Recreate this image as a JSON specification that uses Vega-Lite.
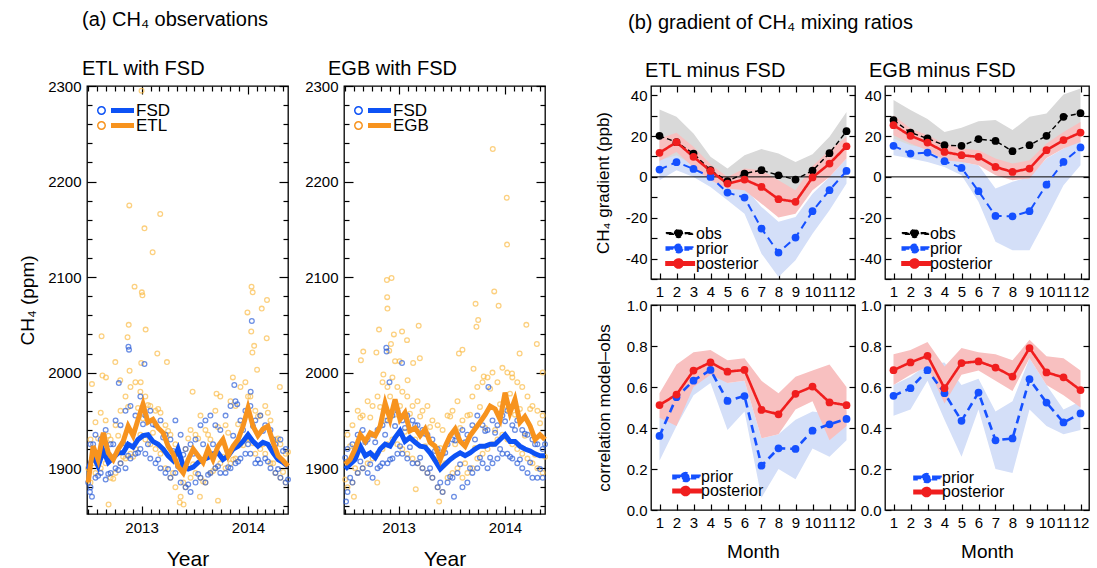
{
"$schema": "https://vega.github.io/schema/vega-lite/v6.json",
"padding": {"left": 17, "top": 10, "right": 0, "bottom": 0},
"config": {
  "font": "Liberation Sans",
  "view": {"stroke": "black", "strokeWidth": 1.3},
  "axis": {"grid": false, "domain": false, "tickColor": "black", "tickWidth": 1.2, "labelColor": "black", "labelFontSize": 15, "titleFontSize": 17, "titleFontWeight": "normal", "titleColor": "black", "labelFont": "Liberation Sans", "titleFont": "Liberation Sans", "labelOverlap": false, "labelFlush": false, "labelBound": false},
  "title": {"fontWeight": "normal", "fontSize": 20, "anchor": "start", "frame": "group", "color": "black", "font": "Liberation Sans"},
  "legend": {"labelFont": "Liberation Sans", "labelColor": "black", "labelFontSize": 16}
},
"datasets": {
"ts": [
{"d":"2012-07-02","ef":1899,"eo":1885,"gf":1899,"go":1904},
{"d":"2012-07-19","ef":1913,"eo":1923,"gf":1904,"go":1909},
{"d":"2012-08-05","ef":1902,"eo":1909,"gf":1909,"go":1920},
{"d":"2012-08-23","ef":1918,"eo":1937,"gf":1923,"go":1935},
{"d":"2012-09-09","ef":1906,"eo":1916,"gf":1913,"go":1928},
{"d":"2012-09-26","ef":1911,"eo":1909,"gf":1916,"go":1937},
{"d":"2012-10-13","ef":1916,"eo":1920,"gf":1911,"go":1934},
{"d":"2012-10-30","ef":1916,"eo":1928,"gf":1920,"go":1944},
{"d":"2012-11-16","ef":1925,"eo":1944,"gf":1925,"go":1968},
{"d":"2012-12-03","ef":1922,"eo":1934,"gf":1923,"go":1951},
{"d":"2012-12-20","ef":1930,"eo":1951,"gf":1932,"go":1972},
{"d":"2013-01-06","ef":1934,"eo":1967,"gf":1939,"go":1951},
{"d":"2013-01-23","ef":1935,"eo":1948,"gf":1928,"go":1958},
{"d":"2013-02-09","ef":1928,"eo":1951,"gf":1932,"go":1939},
{"d":"2013-02-27","ef":1925,"eo":1942,"gf":1927,"go":1942},
{"d":"2013-03-16","ef":1920,"eo":1937,"gf":1923,"go":1934},
{"d":"2013-04-02","ef":1913,"eo":1923,"gf":1922,"go":1941},
{"d":"2013-04-19","ef":1908,"eo":1915,"gf":1916,"go":1927},
{"d":"2013-05-06","ef":1920,"eo":1902,"gf":1908,"go":1923},
{"d":"2013-05-24","ef":1902,"eo":1895,"gf":1899,"go":1909},
{"d":"2013-06-10","ef":1899,"eo":1909,"gf":1904,"go":1923},
{"d":"2013-06-27","ef":1901,"eo":1920,"gf":1909,"go":1934},
{"d":"2013-07-14","ef":1906,"eo":1913,"gf":1913,"go":1941},
{"d":"2013-07-31","ef":1909,"eo":1906,"gf":1916,"go":1928},
{"d":"2013-08-17","ef":1911,"eo":1920,"gf":1913,"go":1923},
{"d":"2013-09-03","ef":1915,"eo":1909,"gf":1916,"go":1934},
{"d":"2013-09-20","ef":1916,"eo":1923,"gf":1920,"go":1941},
{"d":"2013-10-07","ef":1909,"eo":1930,"gf":1923,"go":1948},
{"d":"2013-10-25","ef":1913,"eo":1913,"gf":1923,"go":1956},
{"d":"2013-11-11","ef":1920,"eo":1923,"gf":1925,"go":1965},
{"d":"2013-11-28","ef":1923,"eo":1930,"gf":1925,"go":1962},
{"d":"2013-12-15","ef":1928,"eo":1944,"gf":1930,"go":1951},
{"d":"2014-01-01","ef":1935,"eo":1963,"gf":1935,"go":1979},
{"d":"2014-01-18","ef":1928,"eo":1944,"gf":1928,"go":1958},
{"d":"2014-02-04","ef":1923,"eo":1934,"gf":1928,"go":1972},
{"d":"2014-02-21","ef":1927,"eo":1941,"gf":1923,"go":1948},
{"d":"2014-03-10","ef":1925,"eo":1944,"gf":1920,"go":1954},
{"d":"2014-03-28","ef":1916,"eo":1927,"gf":1918,"go":1944},
{"d":"2014-04-14","ef":1909,"eo":1913,"gf":1915,"go":1930},
{"d":"2014-05-01","ef":1906,"eo":1908,"gf":1913,"go":1935},
{"d":"2014-05-18","ef":1902,"eo":1902,"gf":1913,"go":1930}
],
"pts": [
{"d":"2012-07-10","eo1":1930,"eo2":1885,"ef1":1925,"ef2":1880,"go1":1935,"go2":1880,"gf1":1920,"gf2":1875},
{"d":"2012-07-27","eo1":1948,"eo2":1895,"ef1":1935,"ef2":1890,"go1":1945,"go2":1885,"gf1":1925,"gf2":1885},
{"d":"2012-08-14","eo1":1958,"eo2":1900,"ef1":1930,"ef2":1895,"go1":1960,"go2":1895,"gf1":1935,"gf2":1895},
{"d":"2012-08-31","eo1":1905,"eo2":1950,"ef1":1940,"ef2":1888,"go1":1955,"go2":1900,"gf1":1940,"gf2":1900},
{"d":"2012-09-17","eo1":1890,"eo2":1930,"ef1":1925,"ef2":1895,"go1":1970,"go2":1905,"gf1":1930,"gf2":1895},
{"d":"2012-10-04","eo1":1945,"eo2":1895,"ef1":1950,"ef2":1900,"go1":1965,"go2":1910,"gf1":1935,"gf2":1890},
{"d":"2012-10-21","eo1":1960,"eo2":1905,"ef1":1945,"ef2":1905,"go1":1975,"go2":1915,"gf1":1940,"gf2":1900},
{"d":"2012-11-07","eo1":1975,"eo2":1910,"ef1":1960,"ef2":1900,"go1":1990,"go2":1920,"gf1":1945,"gf2":1905},
{"d":"2012-11-24","eo1":1985,"eo2":1915,"ef1":1965,"ef2":1910,"go1":1985,"go2":1925,"gf1":1950,"gf2":1905},
{"d":"2012-12-11","eo1":1990,"eo2":1920,"ef1":1955,"ef2":1915,"go1":1995,"go2":1930,"gf1":1955,"gf2":1910},
{"d":"2012-12-28","eo1":1980,"eo2":1935,"ef1":1975,"ef2":1920,"go1":1985,"go2":1925,"gf1":1960,"gf2":1915},
{"d":"2013-01-14","eo1":1975,"eo2":1930,"ef1":1955,"ef2":1915,"go1":1980,"go2":1920,"gf1":1950,"gf2":1915},
{"d":"2013-01-31","eo1":1965,"eo2":1925,"ef1":1960,"ef2":1910,"go1":1975,"go2":1915,"gf1":1955,"gf2":1910},
{"d":"2013-02-18","eo1":1960,"eo2":1920,"ef1":1945,"ef2":1905,"go1":1965,"go2":1910,"gf1":1950,"gf2":1905},
{"d":"2013-03-07","eo1":1958,"eo2":1915,"ef1":1950,"ef2":1900,"go1":1970,"go2":1905,"gf1":1945,"gf2":1905},
{"d":"2013-03-24","eo1":1945,"eo2":1900,"ef1":1935,"ef2":1895,"go1":1960,"go2":1900,"gf1":1940,"gf2":1900},
{"d":"2013-04-10","eo1":1935,"eo2":1890,"ef1":1930,"ef2":1890,"go1":1965,"go2":1895,"gf1":1935,"gf2":1895},
{"d":"2013-04-27","eo1":1925,"eo2":1880,"ef1":1950,"ef2":1895,"go1":1950,"go2":1890,"gf1":1930,"gf2":1890},
{"d":"2013-05-15","eo1":1910,"eo2":1870,"ef1":1935,"ef2":1885,"go1":1945,"go2":1880,"gf1":1920,"gf2":1880},
{"d":"2013-06-01","eo1":1880,"eo2":1920,"ef1":1920,"ef2":1880,"go1":1940,"go2":1875,"gf1":1915,"gf2":1875},
{"d":"2013-06-18","eo1":1940,"eo2":1890,"ef1":1925,"ef2":1875,"go1":1955,"go2":1890,"gf1":1925,"gf2":1885},
{"d":"2013-07-05","eo1":1935,"eo2":1895,"ef1":1930,"ef2":1885,"go1":1960,"go2":1895,"gf1":1930,"gf2":1890},
{"d":"2013-07-22","eo1":1890,"eo2":1955,"ef1":1945,"ef2":1890,"go1":1970,"go2":1900,"gf1":1935,"gf2":1895},
{"d":"2013-08-08","eo1":1940,"eo2":1885,"ef1":1950,"ef2":1885,"go1":1950,"go2":1890,"gf1":1940,"gf2":1880},
{"d":"2013-08-25","eo1":1930,"eo2":1895,"ef1":1955,"ef2":1895,"go1":1955,"go2":1895,"gf1":1935,"gf2":1885},
{"d":"2013-09-11","eo1":1960,"eo2":1900,"ef1":1945,"ef2":1900,"go1":1975,"go2":1900,"gf1":1945,"gf2":1895},
{"d":"2013-09-28","eo1":1975,"eo2":1905,"ef1":1940,"ef2":1895,"go1":1985,"go2":1910,"gf1":1955,"gf2":1900},
{"d":"2013-10-16","eo1":1945,"eo2":1900,"ef1":1955,"ef2":1895,"go1":1990,"go2":1915,"gf1":1945,"gf2":1905},
{"d":"2013-11-02","eo1":1970,"eo2":1905,"ef1":1965,"ef2":1900,"go1":1995,"go2":1920,"gf1":1940,"gf2":1900},
{"d":"2013-11-19","eo1":1965,"eo2":1910,"ef1":1970,"ef2":1905,"go1":2000,"go2":1925,"gf1":1950,"gf2":1905},
{"d":"2013-12-06","eo1":1985,"eo2":1925,"ef1":1950,"ef2":1910,"go1":1990,"go2":1930,"gf1":1945,"gf2":1910},
{"d":"2013-12-23","eo1":1990,"eo2":1930,"ef1":1960,"ef2":1915,"go1":2005,"go2":1935,"gf1":1955,"gf2":1915},
{"d":"2014-01-09","eo1":1975,"eo2":1930,"ef1":1965,"ef2":1915,"go1":2000,"go2":1930,"gf1":1960,"gf2":1915},
{"d":"2014-01-26","eo1":1960,"eo2":1915,"ef1":1950,"ef2":1905,"go1":1995,"go2":1925,"gf1":1945,"gf2":1910},
{"d":"2014-02-12","eo1":1955,"eo2":1920,"ef1":1955,"ef2":1905,"go1":1990,"go2":1920,"gf1":1950,"gf2":1905},
{"d":"2014-03-01","eo1":1965,"eo2":1915,"ef1":1945,"ef2":1910,"go1":1985,"go2":1915,"gf1":1940,"gf2":1900},
{"d":"2014-03-19","eo1":1950,"eo2":1905,"ef1":1940,"ef2":1900,"go1":1975,"go2":1910,"gf1":1935,"gf2":1895},
{"d":"2014-04-05","eo1":1930,"eo2":1895,"ef1":1925,"ef2":1895,"go1":1965,"go2":1905,"gf1":1930,"gf2":1890},
{"d":"2014-04-22","eo1":1925,"eo2":1890,"ef1":1930,"ef2":1890,"go1":1960,"go2":1900,"gf1":1925,"gf2":1890},
{"d":"2014-05-10","eo1":1915,"eo2":1885,"ef1":1920,"ef2":1885,"go1":1955,"go2":1895,"gf1":1920,"gf2":1890},
{"d":"2012-07-02","eo1":1900,"ef1":1885,"go1":1888,"gf1":1911},
{"d":"2012-07-19","eo1":1905,"ef1":1925,"go1":1923,"gf1":1890},
{"d":"2012-08-05","eo1":1931,"ef1":1892,"go1":1900,"gf1":1919},
{"d":"2012-08-23","eo1":1925,"ef1":1934,"go1":1953,"gf1":1907},
{"d":"2012-09-09","eo1":1934,"ef1":1894,"go1":1914,"gf1":1927},
{"d":"2012-09-26","eo1":1889,"ef1":1925,"go1":1953,"gf1":1904},
{"d":"2012-10-13","eo1":1934,"ef1":1898,"go1":1912,"gf1":1927},
{"d":"2012-10-30","eo1":1912,"ef1":1926,"go1":1964,"gf1":1902},
{"d":"2012-11-16","eo1":1964,"ef1":1913,"go1":1950,"gf1":1935},
{"d":"2012-12-03","eo1":1912,"ef1":1938,"go1":1975,"gf1":1909},
{"d":"2012-12-20","eo1":1963,"ef1":1916,"go1":1956,"gf1":1944},
{"d":"2013-01-06","eo1":1952,"ef1":1946,"go1":1965,"gf1":1923},
{"d":"2013-01-23","eo1":1966,"ef1":1925,"go1":1938,"gf1":1942},
{"d":"2013-02-09","eo1":1937,"ef1":1946,"go1":1957,"gf1":1922},
{"d":"2013-02-27","eo1":1962,"ef1":1909,"go1":1930,"gf1":1945},
{"d":"2013-03-16","eo1":1919,"ef1":1932,"go1":1954,"gf1":1911},
{"d":"2013-04-02","eo1":1939,"ef1":1899,"go1":1923,"gf1":1936},
{"d":"2013-04-19","eo1":1895,"ef1":1918,"go1":1943,"gf1":1900},
{"d":"2013-05-06","eo1":1916,"ef1":1902,"go1":1909,"gf1":1918},
{"d":"2013-05-24","eo1":1885,"ef1":1914,"go1":1921,"gf1":1885},
{"d":"2013-06-10","eo1":1931,"ef1":1883,"go1":1905,"gf1":1916},
{"d":"2013-06-27","eo1":1904,"ef1":1915,"go1":1954,"gf1":1891},
{"d":"2013-07-14","eo1":1931,"ef1":1894,"go1":1925,"gf1":1929},
{"d":"2013-07-31","eo1":1886,"ef1":1925,"go1":1942,"gf1":1904},
{"d":"2013-08-17","eo1":1935,"ef1":1893,"go1":1905,"gf1":1927},
{"d":"2013-09-03","eo1":1897,"ef1":1925,"go1":1956,"gf1":1900},
{"d":"2013-09-20","eo1":1943,"ef1":1902,"go1":1921,"gf1":1930},
{"d":"2013-10-07","eo1":1912,"ef1":1927,"go1":1964,"gf1":1911},
{"d":"2013-10-25","eo1":1937,"ef1":1901,"go1":1942,"gf1":1939},
{"d":"2013-11-11","eo1":1909,"ef1":1934,"go1":1983,"gf1":1911},
{"d":"2013-11-28","eo1":1946,"ef1":1907,"go1":1940,"gf1":1937},
{"d":"2013-12-15","eo1":1924,"ef1":1940,"go1":1967,"gf1":1920},
{"d":"2014-01-01","eo1":1975,"ef1":1925,"go1":1961,"gf1":1949},
{"d":"2014-01-18","eo1":1926,"ef1":1944,"go1":1978,"gf1":1912},
{"d":"2014-02-04","eo1":1954,"ef1":1909,"go1":1956,"gf1":1940},
{"d":"2014-02-21","eo1":1925,"ef1":1939,"go1":1962,"gf1":1909},
{"d":"2014-03-10","eo1":1958,"ef1":1907,"go1":1934,"gf1":1936},
{"d":"2014-03-28","eo1":1905,"ef1":1930,"go1":1962,"gf1":1906},
{"d":"2014-04-14","eo1":1931,"ef1":1899,"go1":1914,"gf1":1925},
{"d":"2014-05-01","eo1":1896,"ef1":1918,"go1":1947,"gf1":1899},
{"d":"2014-05-18","eo1":1917,"ef1":1888,"go1":1912,"gf1":1925},
{"d":"2013-01-01","eo1":2295},{"d":"2012-11-20","eo1":2175},{"d":"2013-03-06","eo1":2166},{"d":"2013-01-11","eo1":2151},
{"d":"2013-02-08","eo1":2126},{"d":"2012-12-08","eo1":2090},{"d":"2013-01-02","eo1":2084},{"d":"2013-01-04","eo1":2081},
{"d":"2012-11-18","eo1":2050},{"d":"2012-11-14","eo1":2037},{"d":"2013-01-15","eo1":2045},{"d":"2012-08-17","eo1":2038},
{"d":"2013-02-24","eo1":2020},{"d":"2012-10-03","eo1":2011},{"d":"2013-03-29","eo1":2011},{"d":"2012-12-31","eo1":2010},
{"d":"2014-01-13","eo1":2090},{"d":"2014-01-17","eo1":2084},{"d":"2014-03-07","eo1":2076},{"d":"2014-02-17","eo1":2067},
{"d":"2013-12-30","eo1":2063},{"d":"2014-01-12","eo1":2043},{"d":"2014-03-06","eo1":2036},{"d":"2014-01-22","eo1":2028},
{"d":"2014-01-16","eo1":2021},{"d":"2012-08-20","eo1":1997},{"d":"2012-09-01","eo1":1995},{"d":"2012-11-21","eo1":2002},
{"d":"2012-12-29","eo1":1990},{"d":"2013-11-10","eo1":1995},{"d":"2014-02-01","eo1":2003},{"d":"2014-04-20","eo1":1985},
{"d":"2012-07-15","eo1":1988},{"d":"2012-10-20","eo1":1992},{"d":"2013-06-25","eo1":1980},{"d":"2013-09-15","eo1":1978},
{"d":"2012-09-10","eo1":1862},{"d":"2013-05-25","eo1":1862},{"d":"2013-05-12","eo1":1864},{"d":"2013-09-20","eo1":1866},
{"d":"2013-07-20","eo1":1870},
{"d":"2012-11-17","ef1":2027},{"d":"2012-11-19","ef1":2024},{"d":"2013-01-11","ef1":2009},{"d":"2014-01-14","ef1":2054},
{"d":"2012-07-15","ef1":1870},{"d":"2012-07-08","ef1":1875},{"d":"2012-10-15","ef1":1989},{"d":"2013-11-15","ef1":1987},
{"d":"2013-11-25","ef1":1967},{"d":"2014-01-10","ef1":1980},
{"d":"2013-11-20","go1":2234},{"d":"2014-01-07","go1":2183},{"d":"2014-01-08","go1":2134},{"d":"2013-11-25","go1":2085},
{"d":"2013-12-10","go1":2070},{"d":"2012-11-22","go1":2097},{"d":"2012-12-08","go1":2099},{"d":"2012-11-23","go1":2079},
{"d":"2012-11-24","go1":2067},{"d":"2012-10-26","go1":2045},{"d":"2012-12-16","go1":2040},{"d":"2013-01-13","go1":2043},
{"d":"2012-12-06","go1":2030},{"d":"2013-01-30","go1":2034},{"d":"2013-03-11","go1":2049},{"d":"2012-09-02","go1":2022},
{"d":"2012-10-17","go1":2021},{"d":"2012-08-25","go1":2013},{"d":"2012-11-30","go1":2023},{"d":"2012-12-20","go1":2012},
{"d":"2013-01-05","go1":2012},{"d":"2013-03-15","go1":2015},{"d":"2013-02-20","go1":2010},{"d":"2013-07-27","go1":2020},
{"d":"2013-08-08","go1":2024},{"d":"2013-09-22","go1":2072},{"d":"2013-09-25","go1":2048},{"d":"2013-10-01","go1":2055},
{"d":"2013-09-15","go1":2004},{"d":"2014-03-15","go1":2050},{"d":"2014-04-20","go1":2030},{"d":"2014-02-20","go1":2020},
{"d":"2014-05-10","go1":2000},{"d":"2013-05-20","go1":1865},{"d":"2013-03-01","go1":1878},{"d":"2012-10-20","go1":1885},
{"d":"2012-08-01","go1":1870},{"d":"2012-11-10","go1":1998},{"d":"2013-02-01","go1":1992},{"d":"2013-10-20","go1":1996},
{"d":"2014-01-25","go1":1999},
{"d":"2012-11-20","gf1":2026},{"d":"2012-11-21","gf1":2022},{"d":"2013-01-13","gf1":2010},{"d":"2013-11-05","gf1":1985},
{"d":"2012-07-05","gf1":1865},{"d":"2013-07-10","gf1":1870},{"d":"2012-12-01","gf1":1990}
],
"grad": [
{"p":"ETL","s":"obs","m":1,"v":20.1,"lo":7,"hi":33},{"p":"ETL","s":"obs","m":2,"v":17.0,"lo":5,"hi":29.4},{"p":"ETL","s":"obs","m":3,"v":11.4,"lo":1.4,"hi":21.2},{"p":"ETL","s":"obs","m":4,"v":3.3,"lo":-3.2,"hi":9.8},{"p":"ETL","s":"obs","m":5,"v":-2.1,"lo":-8,"hi":4.1},{"p":"ETL","s":"obs","m":6,"v":1.6,"lo":-7.4,"hi":10.6},{"p":"ETL","s":"obs","m":7,"v":3.3,"lo":-7,"hi":13.6},{"p":"ETL","s":"obs","m":8,"v":0.8,"lo":-9.7,"hi":11.4},{"p":"ETL","s":"obs","m":9,"v":-1.3,"lo":-9.9,"hi":7.3},{"p":"ETL","s":"obs","m":10,"v":3.1,"lo":-4.9,"hi":11.1},{"p":"ETL","s":"obs","m":11,"v":11.6,"lo":3.6,"hi":19.6},{"p":"ETL","s":"obs","m":12,"v":22.4,"lo":13,"hi":31.8},
{"p":"ETL","s":"prior","m":1,"v":3.6,"lo":-1.6,"hi":8.2},{"p":"ETL","s":"prior","m":2,"v":7.2,"lo":3.3,"hi":10.6},{"p":"ETL","s":"prior","m":3,"v":3.9,"lo":0,"hi":5.7},{"p":"ETL","s":"prior","m":4,"v":0,"lo":-4.9,"hi":2.4},{"p":"ETL","s":"prior","m":5,"v":-7.7,"lo":-11.4,"hi":-3.3},{"p":"ETL","s":"prior","m":6,"v":-10.1,"lo":-18,"hi":-4.9},{"p":"ETL","s":"prior","m":7,"v":-25.3,"lo":-37.6,"hi":-14.7},{"p":"ETL","s":"prior","m":8,"v":-37.1,"lo":-49,"hi":-22},{"p":"ETL","s":"prior","m":9,"v":-29.7,"lo":-40.8,"hi":-19.6},{"p":"ETL","s":"prior","m":10,"v":-16.8,"lo":-27.8,"hi":-8.2},{"p":"ETL","s":"prior","m":11,"v":-6.5,"lo":-16.3,"hi":0},{"p":"ETL","s":"prior","m":12,"v":2.9,"lo":-3.3,"hi":9},
{"p":"ETL","s":"posterior","m":1,"v":11.8,"lo":7.8,"hi":18.8},{"p":"ETL","s":"posterior","m":2,"v":17.0,"lo":12.2,"hi":21.6},{"p":"ETL","s":"posterior","m":3,"v":9.8,"lo":4.6,"hi":14.7},{"p":"ETL","s":"posterior","m":4,"v":2.9,"lo":-1.6,"hi":6.2},{"p":"ETL","s":"posterior","m":5,"v":-3.3,"lo":-5.7,"hi":0},{"p":"ETL","s":"posterior","m":6,"v":-1.3,"lo":-6.5,"hi":4.1},{"p":"ETL","s":"posterior","m":7,"v":-4.9,"lo":-13.1,"hi":3.3},{"p":"ETL","s":"posterior","m":8,"v":-10.9,"lo":-19.9,"hi":-1.6},{"p":"ETL","s":"posterior","m":9,"v":-12.2,"lo":-18,"hi":-6.5},{"p":"ETL","s":"posterior","m":10,"v":-0.3,"lo":-6.5,"hi":5.2},{"p":"ETL","s":"posterior","m":11,"v":6.5,"lo":0,"hi":13.1},{"p":"ETL","s":"posterior","m":12,"v":15.0,"lo":9,"hi":19.6},
{"p":"EGB","s":"obs","m":1,"v":27.8,"lo":18,"hi":37.6},{"p":"EGB","s":"obs","m":2,"v":21.7,"lo":10.7,"hi":32.7},{"p":"EGB","s":"obs","m":3,"v":18.8,"lo":9.3,"hi":28.3},{"p":"EGB","s":"obs","m":4,"v":15.5,"lo":9,"hi":22},{"p":"EGB","s":"obs","m":5,"v":15.2,"lo":6.4,"hi":24},{"p":"EGB","s":"obs","m":6,"v":18.5,"lo":9.7,"hi":27.3},{"p":"EGB","s":"obs","m":7,"v":17.6,"lo":7.4,"hi":27.8},{"p":"EGB","s":"obs","m":8,"v":12.6,"lo":2.3,"hi":22.9},{"p":"EGB","s":"obs","m":9,"v":15.5,"lo":1.6,"hi":29.4},{"p":"EGB","s":"obs","m":10,"v":20.1,"lo":9.2,"hi":31},{"p":"EGB","s":"obs","m":11,"v":29.4,"lo":18.5,"hi":40.3},{"p":"EGB","s":"obs","m":12,"v":31.2,"lo":19.1,"hi":43.3},
{"p":"EGB","s":"prior","m":1,"v":15.2,"lo":10.6,"hi":18.8},{"p":"EGB","s":"prior","m":2,"v":11.4,"lo":9,"hi":15.5},{"p":"EGB","s":"prior","m":3,"v":11.9,"lo":7.3,"hi":13.9},{"p":"EGB","s":"prior","m":4,"v":7.7,"lo":4.9,"hi":10.6},{"p":"EGB","s":"prior","m":5,"v":4.4,"lo":0.8,"hi":7.3},{"p":"EGB","s":"prior","m":6,"v":-7.0,"lo":-12.2,"hi":5.7},{"p":"EGB","s":"prior","m":7,"v":-19.1,"lo":-31.8,"hi":-5.7},{"p":"EGB","s":"prior","m":8,"v":-19.3,"lo":-35.9,"hi":-2.4},{"p":"EGB","s":"prior","m":9,"v":-16.8,"lo":-35.9,"hi":0},{"p":"EGB","s":"prior","m":10,"v":-3.8,"lo":-20.4,"hi":9},{"p":"EGB","s":"prior","m":11,"v":7.3,"lo":-4.1,"hi":13.9},{"p":"EGB","s":"prior","m":12,"v":14.4,"lo":5.7,"hi":18},
{"p":"EGB","s":"posterior","m":1,"v":25.3,"lo":20.4,"hi":30.2},{"p":"EGB","s":"posterior","m":2,"v":20.1,"lo":16.3,"hi":23.7},{"p":"EGB","s":"posterior","m":3,"v":16.8,"lo":13.1,"hi":20.4},{"p":"EGB","s":"posterior","m":4,"v":12.2,"lo":8.2,"hi":16.3},{"p":"EGB","s":"posterior","m":5,"v":10.6,"lo":7.3,"hi":13.9},{"p":"EGB","s":"posterior","m":6,"v":9.8,"lo":5.7,"hi":13.1},{"p":"EGB","s":"posterior","m":7,"v":4.9,"lo":0.8,"hi":9},{"p":"EGB","s":"posterior","m":8,"v":2.4,"lo":-1.6,"hi":6.5},{"p":"EGB","s":"posterior","m":9,"v":4.1,"lo":-0.8,"hi":8.2},{"p":"EGB","s":"posterior","m":10,"v":13.1,"lo":9.3,"hi":16.3},{"p":"EGB","s":"posterior","m":11,"v":18.0,"lo":13.9,"hi":22},{"p":"EGB","s":"posterior","m":12,"v":21.7,"lo":17.1,"hi":26.9}
],
"corr": [
{"p":"ETL","s":"prior","m":1,"v":0.361,"lo":0.24,"hi":0.45},{"p":"ETL","s":"prior","m":2,"v":0.55,"lo":0.41,"hi":0.58},{"p":"ETL","s":"prior","m":3,"v":0.631,"lo":0.56,"hi":0.65},{"p":"ETL","s":"prior","m":4,"v":0.683,"lo":0.62,"hi":0.70},{"p":"ETL","s":"prior","m":5,"v":0.532,"lo":0.39,"hi":0.62},{"p":"ETL","s":"prior","m":6,"v":0.556,"lo":0.48,"hi":0.63},{"p":"ETL","s":"prior","m":7,"v":0.216,"lo":0.06,"hi":0.35},{"p":"ETL","s":"prior","m":8,"v":0.301,"lo":0.20,"hi":0.37},{"p":"ETL","s":"prior","m":9,"v":0.298,"lo":0.15,"hi":0.44},{"p":"ETL","s":"prior","m":10,"v":0.387,"lo":0.30,"hi":0.48},{"p":"ETL","s":"prior","m":11,"v":0.418,"lo":0.26,"hi":0.47},{"p":"ETL","s":"prior","m":12,"v":0.444,"lo":0.34,"hi":0.48},
{"p":"ETL","s":"posterior","m":1,"v":0.512,"lo":0.45,"hi":0.57},{"p":"ETL","s":"posterior","m":2,"v":0.563,"lo":0.41,"hi":0.71},{"p":"ETL","s":"posterior","m":3,"v":0.680,"lo":0.60,"hi":0.77},{"p":"ETL","s":"posterior","m":4,"v":0.720,"lo":0.66,"hi":0.78},{"p":"ETL","s":"posterior","m":5,"v":0.675,"lo":0.62,"hi":0.73},{"p":"ETL","s":"posterior","m":6,"v":0.683,"lo":0.63,"hi":0.74},{"p":"ETL","s":"posterior","m":7,"v":0.488,"lo":0.35,"hi":0.63},{"p":"ETL","s":"posterior","m":8,"v":0.467,"lo":0.37,"hi":0.57},{"p":"ETL","s":"posterior","m":9,"v":0.567,"lo":0.49,"hi":0.65},{"p":"ETL","s":"posterior","m":10,"v":0.602,"lo":0.53,"hi":0.68},{"p":"ETL","s":"posterior","m":11,"v":0.525,"lo":0.34,"hi":0.71},{"p":"ETL","s":"posterior","m":12,"v":0.511,"lo":0.41,"hi":0.60},
{"p":"EGB","s":"prior","m":1,"v":0.557,"lo":0.46,"hi":0.61},{"p":"EGB","s":"prior","m":2,"v":0.594,"lo":0.49,"hi":0.65},{"p":"EGB","s":"prior","m":3,"v":0.682,"lo":0.63,"hi":0.71},{"p":"EGB","s":"prior","m":4,"v":0.570,"lo":0.44,"hi":0.72},{"p":"EGB","s":"prior","m":5,"v":0.435,"lo":0.26,"hi":0.61},{"p":"EGB","s":"prior","m":6,"v":0.573,"lo":0.49,"hi":0.64},{"p":"EGB","s":"prior","m":7,"v":0.340,"lo":0.20,"hi":0.48},{"p":"EGB","s":"prior","m":8,"v":0.349,"lo":0.18,"hi":0.53},{"p":"EGB","s":"prior","m":9,"v":0.638,"lo":0.49,"hi":0.74},{"p":"EGB","s":"prior","m":10,"v":0.524,"lo":0.41,"hi":0.61},{"p":"EGB","s":"prior","m":11,"v":0.427,"lo":0.37,"hi":0.49},{"p":"EGB","s":"prior","m":12,"v":0.471,"lo":0.39,"hi":0.53},
{"p":"EGB","s":"posterior","m":1,"v":0.682,"lo":0.61,"hi":0.76},{"p":"EGB","s":"posterior","m":2,"v":0.720,"lo":0.66,"hi":0.78},{"p":"EGB","s":"posterior","m":3,"v":0.752,"lo":0.70,"hi":0.82},{"p":"EGB","s":"posterior","m":4,"v":0.594,"lo":0.52,"hi":0.70},{"p":"EGB","s":"posterior","m":5,"v":0.717,"lo":0.66,"hi":0.79},{"p":"EGB","s":"posterior","m":6,"v":0.725,"lo":0.68,"hi":0.77},{"p":"EGB","s":"posterior","m":7,"v":0.695,"lo":0.63,"hi":0.76},{"p":"EGB","s":"posterior","m":8,"v":0.651,"lo":0.58,"hi":0.73},{"p":"EGB","s":"posterior","m":9,"v":0.790,"lo":0.74,"hi":0.83},{"p":"EGB","s":"posterior","m":10,"v":0.671,"lo":0.61,"hi":0.75},{"p":"EGB","s":"posterior","m":11,"v":0.647,"lo":0.56,"hi":0.74},{"p":"EGB","s":"posterior","m":12,"v":0.585,"lo":0.50,"hi":0.68}
]
},
"resolve": {"scale": {"color": "independent", "strokeDash": "independent", "strokeWidth": "independent"}},
"spacing": 37,
"hconcat": [
{
 "title": {"text": "(a) CH₄ observations", "dx": -5, "offset": 28},
 "bounds": "flush",
 "spacing": 56,
 "resolve": {"scale": {"color": "independent"}},
 "hconcat": [
 {
  "width": 201, "height": 428,
  "title": {"text": "ETL with FSD", "dx": -5, "offset": 0},
  "layer": [
   {"data": {"name": "pts"}, "transform": [{"fold": ["eo1", "eo2"], "as": ["k", "v"]}],
    "mark": {"type": "point", "filled": false, "size": 22, "strokeWidth": 1.3, "color": "#fbbd4a"},
    "encoding": {
     "x": {"field": "d", "type": "temporal", "scale": {"domain": [{"year": 2012, "month": 6, "date": 28}, {"year": 2014, "month": 5, "date": 18}], "nice": false},
       "axis": {"orient": "bottom", "title": "Year", "titleFontSize": 21, "titlePadding": 10, "tickCount": {"interval": "month", "step": 1}, "labelExpr": "month(datum.value) == 0 ? timeFormat(datum.value, '%Y') : ''", "tickSize": {"condition": {"test": "month(datum.value) == 0", "value": -8}, "value": -5}, "labelPadding": 14}},
     "y": {"field": "v", "type": "quantitative", "scale": {"domain": [1852, 2300], "nice": false, "zero": false},
       "axis": {"orient": "left", "title": "CH₄ (ppm)", "titleFontSize": 19, "titlePadding": 10, "values": [1860,1880,1900,1920,1940,1960,1980,2000,2020,2040,2060,2080,2100,2120,2140,2160,2180,2200,2220,2240,2260,2280,2300], "labelExpr": "datum.value % 100 == 0 ? '' + datum.value : ''", "tickSize": {"condition": {"test": "datum.value % 100 == 0", "value": -9}, "value": -5}, "labelPadding": 15}}
    }},
   {"data": {"name": "pts"}, "transform": [{"fold": ["ef1", "ef2"], "as": ["k", "v"]}],
    "mark": {"type": "point", "filled": false, "size": 22, "strokeWidth": 1.3, "color": "#2d5fd9"},
    "encoding": {"x": {"field": "d", "type": "temporal", "axis": null}, "y": {"field": "v", "type": "quantitative", "axis": null}}},
   {"data": {"name": "ts"}, "mark": {"type": "line", "strokeWidth": 5},
    "encoding": {"x": {"field": "d", "type": "temporal", "axis": null}, "y": {"field": "ef", "type": "quantitative", "axis": null},
     "color": {"datum": "FSD", "type": "nominal", "scale": {"domain": ["FSD", "ETL"], "range": ["#0d52f5", "#f7931e"]},
      "legend": {"orient": "none", "legendX": 8, "legendY": 18, "padding": 0, "rowPadding": -8, "clipHeight": 13, "symbolSize": 169, "labelOffset": 24, "labelFontSize": 17, "title": null, "symbolType": "M-1,0a0.69,0.69 0 1,1 1.38,0a0.69,0.69 0 1,1 -1.38,0ZM-0.77,0a0.46,0.46 0 1,0 0.92,0a0.46,0.46 0 1,0 -0.92,0ZM1.15,-0.38L4.69,-0.38L4.69,0.38L1.15,0.38Z", "symbolStrokeWidth": 0, "encode": {"symbols": {"update": {"fill": {"signal": "datum.value == 'FSD' ? '#0d52f5' : '#f7931e'"}, "stroke": {"value": "transparent"}}}}}}}},
   {"data": {"name": "ts"}, "mark": {"type": "line", "strokeWidth": 5},
    "encoding": {"x": {"field": "d", "type": "temporal", "axis": null}, "y": {"field": "eo", "type": "quantitative", "axis": null},
     "color": {"datum": "ETL", "type": "nominal",
      "legend": {"orient": "none", "legendX": 8, "legendY": 18, "padding": 0, "rowPadding": -8, "clipHeight": 13, "symbolSize": 169, "labelOffset": 24, "labelFontSize": 17, "title": null, "symbolType": "M-1,0a0.69,0.69 0 1,1 1.38,0a0.69,0.69 0 1,1 -1.38,0ZM-0.77,0a0.46,0.46 0 1,0 0.92,0a0.46,0.46 0 1,0 -0.92,0ZM1.15,-0.38L4.69,-0.38L4.69,0.38L1.15,0.38Z", "symbolStrokeWidth": 0, "encode": {"symbols": {"update": {"fill": {"signal": "datum.value == 'FSD' ? '#0d52f5' : '#f7931e'"}, "stroke": {"value": "transparent"}}}}}}}},
   {"data": {"name": "ts"}, "mark": {"type": "point", "opacity": 0},
    "encoding": {
     "x": {"field": "d", "type": "temporal", "axis": {"orient": "top", "title": null, "labels": false, "tickCount": {"interval": "month", "step": 1}, "tickSize": {"condition": {"test": "month(datum.value) == 0", "value": -8}, "value": -5}}},
     "y": {"field": "eo", "type": "quantitative", "axis": {"orient": "right", "title": null, "labels": false, "values": [1860,1880,1900,1920,1940,1960,1980,2000,2020,2040,2060,2080,2100,2120,2140,2160,2180,2200,2220,2240,2260,2280,2300], "tickSize": {"condition": {"test": "datum.value % 100 == 0", "value": -9}, "value": -5}}}
    }}
  ],
  "resolve": {"axis": {"x": "independent", "y": "independent"}}
 },
 {
  "width": 201, "height": 428,
  "title": {"text": "EGB with FSD", "dx": -16, "offset": 0},
  "layer": [
   {"data": {"name": "pts"}, "transform": [{"fold": ["go1", "go2"], "as": ["k", "v"]}],
    "mark": {"type": "point", "filled": false, "size": 22, "strokeWidth": 1.3, "color": "#fbbd4a"},
    "encoding": {
     "x": {"field": "d", "type": "temporal", "scale": {"domain": [{"year": 2012, "month": 6, "date": 28}, {"year": 2014, "month": 5, "date": 18}], "nice": false},
       "axis": {"orient": "bottom", "title": "Year", "titleFontSize": 21, "titlePadding": 10, "tickCount": {"interval": "month", "step": 1}, "labelExpr": "month(datum.value) == 0 ? timeFormat(datum.value, '%Y') : ''", "tickSize": {"condition": {"test": "month(datum.value) == 0", "value": -8}, "value": -5}, "labelPadding": 14}},
     "y": {"field": "v", "type": "quantitative", "scale": {"domain": [1852, 2300], "nice": false, "zero": false},
       "axis": {"orient": "left", "title": null, "values": [1860,1880,1900,1920,1940,1960,1980,2000,2020,2040,2060,2080,2100,2120,2140,2160,2180,2200,2220,2240,2260,2280,2300], "labelExpr": "datum.value % 100 == 0 ? '' + datum.value : ''", "tickSize": {"condition": {"test": "datum.value % 100 == 0", "value": -9}, "value": -5}, "labelPadding": 15}}
    }},
   {"data": {"name": "pts"}, "transform": [{"fold": ["gf1", "gf2"], "as": ["k", "v"]}],
    "mark": {"type": "point", "filled": false, "size": 22, "strokeWidth": 1.3, "color": "#2d5fd9"},
    "encoding": {"x": {"field": "d", "type": "temporal", "axis": null}, "y": {"field": "v", "type": "quantitative", "axis": null}}},
   {"data": {"name": "ts"}, "mark": {"type": "line", "strokeWidth": 5},
    "encoding": {"x": {"field": "d", "type": "temporal", "axis": null}, "y": {"field": "gf", "type": "quantitative", "axis": null},
     "color": {"datum": "FSD", "type": "nominal", "scale": {"domain": ["FSD", "EGB"], "range": ["#0d52f5", "#f7931e"]},
      "legend": {"orient": "none", "legendX": 8, "legendY": 18, "padding": 0, "rowPadding": -8, "clipHeight": 13, "symbolSize": 169, "labelOffset": 24, "labelFontSize": 17, "title": null, "symbolType": "M-1,0a0.69,0.69 0 1,1 1.38,0a0.69,0.69 0 1,1 -1.38,0ZM-0.77,0a0.46,0.46 0 1,0 0.92,0a0.46,0.46 0 1,0 -0.92,0ZM1.15,-0.38L4.69,-0.38L4.69,0.38L1.15,0.38Z", "symbolStrokeWidth": 0, "encode": {"symbols": {"update": {"fill": {"signal": "datum.value == 'FSD' ? '#0d52f5' : '#f7931e'"}, "stroke": {"value": "transparent"}}}}}}}},
   {"data": {"name": "ts"}, "mark": {"type": "line", "strokeWidth": 5},
    "encoding": {"x": {"field": "d", "type": "temporal", "axis": null}, "y": {"field": "go", "type": "quantitative", "axis": null},
     "color": {"datum": "EGB", "type": "nominal",
      "legend": {"orient": "none", "legendX": 8, "legendY": 18, "padding": 0, "rowPadding": -8, "clipHeight": 13, "symbolSize": 169, "labelOffset": 24, "labelFontSize": 17, "title": null, "symbolType": "M-1,0a0.69,0.69 0 1,1 1.38,0a0.69,0.69 0 1,1 -1.38,0ZM-0.77,0a0.46,0.46 0 1,0 0.92,0a0.46,0.46 0 1,0 -0.92,0ZM1.15,-0.38L4.69,-0.38L4.69,0.38L1.15,0.38Z", "symbolStrokeWidth": 0, "encode": {"symbols": {"update": {"fill": {"signal": "datum.value == 'FSD' ? '#0d52f5' : '#f7931e'"}, "stroke": {"value": "transparent"}}}}}}}},
   {"data": {"name": "ts"}, "mark": {"type": "point", "opacity": 0},
    "encoding": {
     "x": {"field": "d", "type": "temporal", "axis": {"orient": "top", "title": null, "labels": false, "tickCount": {"interval": "month", "step": 1}, "tickSize": {"condition": {"test": "month(datum.value) == 0", "value": -8}, "value": -5}}},
     "y": {"field": "go", "type": "quantitative", "axis": {"orient": "right", "title": null, "labels": false, "values": [1860,1880,1900,1920,1940,1960,1980,2000,2020,2040,2060,2080,2100,2120,2140,2160,2180,2200,2220,2240,2260,2280,2300], "tickSize": {"condition": {"test": "datum.value % 100 == 0", "value": -9}, "value": -5}}}
    }}
  ],
  "resolve": {"axis": {"x": "independent", "y": "independent"}}
 }
 ]
},
{
 "title": {"text": "(b) gradient of CH₄ mixing ratios", "dx": -23, "offset": 27},
 "bounds": "flush",
 "columns": 2,
 "spacing": {"row": 26, "column": 30},
 "resolve": {"scale": {"color": "independent", "strokeDash": "independent", "strokeWidth": "independent"}},
 "concat": [
 {
  "width": 204, "height": 193,
  "title": {"text": "ETL minus FSD", "dx": -6, "offset": 4.5},
  "data": {"name": "grad"},
  "transform": [{"filter": "datum.p == 'ETL'"}],
  "layer": [
   {"transform": [{"filter": "datum.s == 'obs'"}], "mark": {"type": "area", "color": "#d9d9d9", "opacity": 1},
    "encoding": {
     "x": {"field": "m", "type": "quantitative", "scale": {"domain": [0.5, 12.5], "nice": false}, "axis": {"orient": "bottom", "title": null, "values": [1,2,3,4,5,6,7,8,9,10,11,12], "tickSize": -6, "labelPadding": 11}},
     "y": {"field": "lo", "type": "quantitative", "scale": {"domain": [-50, 44.5], "nice": false}, "axis": {"orient": "left", "title": "CH₄ gradient (ppb)", "titlePadding": 13, "values": [-50,-40,-30,-20,-10,0,10,20,30,40], "labelExpr": "datum.value % 20 == 0 ? '' + datum.value : ''", "tickSize": -6, "labelPadding": 10}},
     "y2": {"field": "hi"}}},
   {"transform": [{"filter": "datum.s == 'prior'"}], "mark": {"type": "area", "color": "#d4dff8", "opacity": 1},
    "encoding": {"x": {"field": "m", "type": "quantitative", "axis": null}, "y": {"field": "lo", "type": "quantitative", "axis": null}, "y2": {"field": "hi"}}},
   {"transform": [{"filter": "datum.s == 'posterior'"}], "mark": {"type": "area", "color": "#f8c0c0", "opacity": 1},
    "encoding": {"x": {"field": "m", "type": "quantitative", "axis": null}, "y": {"field": "lo", "type": "quantitative", "axis": null}, "y2": {"field": "hi"}}},
   {"data": {"values": [{"z": 0}]}, "mark": {"type": "rule", "color": "black", "strokeWidth": 1},
    "encoding": {"y": {"field": "z", "type": "quantitative", "axis": null}}},
   {"mark": {"type": "line", "point": {"filled": true, "size": 60}},
    "encoding": {"x": {"field": "m", "type": "quantitative", "axis": null}, "y": {"field": "v", "type": "quantitative", "axis": null},
     "color": {"field": "s", "type": "nominal", "scale": {"domain": ["obs", "prior", "posterior"], "range": ["#000000", "#1550ff", "#f01e1e"]},
      "legend": {"orient": "none", "legendX": 14, "legendY": 141, "padding": 0, "rowPadding": -10, "clipHeight": 13, "symbolSize": 169, "labelOffset": 15, "labelFontSize": 16, "title": null, "encode": {"symbols": {"update": {"size": {"value": 169}, "shape": {"signal": "datum.value == 'obs' ? 'M-1,-0.13L0.05,-0.13L0.05,0.13L-1,0.13ZM0.23,0a0.62,0.62 0 1,1 1.24,0a0.62,0.62 0 1,1 -1.24,0ZM1.9,-0.13L3,-0.13L3,0.13L1.9,0.13Z' : datum.value == 'prior' ? 'M-1,-0.2L0.05,-0.2L0.05,0.2L-1,0.2ZM0.23,0a0.62,0.62 0 1,1 1.24,0a0.62,0.62 0 1,1 -1.24,0ZM1.9,-0.2L3,-0.2L3,0.2L1.9,0.2Z' : 'M-1,-0.2L3.2,-0.2L3.2,0.2L-1,0.2ZM0.23,0a0.62,0.62 0 1,1 1.24,0a0.62,0.62 0 1,1 -1.24,0Z'"}, "fill": {"signal": "datum.value == 'obs' ? '#000000' : datum.value == 'prior' ? '#1550ff' : '#f01e1e'"}, "stroke": {"value": "transparent"}}}}}},
     "strokeDash": {"field": "s", "type": "nominal", "scale": {"domain": ["obs", "prior", "posterior"], "range": [[5, 3], [8, 5], [1, 0]]}, "legend": null},
     "strokeWidth": {"field": "s", "type": "nominal", "scale": {"domain": ["obs", "prior", "posterior"], "range": [1.4, 2.6, 2.6]}, "legend": null}}},
   {"mark": {"type": "point", "opacity": 0},
    "encoding": {"x": {"field": "m", "type": "quantitative", "axis": {"orient": "top", "title": null, "labels": false, "values": [1,2,3,4,5,6,7,8,9,10,11,12], "tickSize": -6}},
     "y": {"field": "v", "type": "quantitative", "axis": {"orient": "right", "title": null, "labels": false, "values": [-50,-40,-30,-20,-10,0,10,20,30,40], "tickSize": -6}}}}
  ],
  "resolve": {"axis": {"x": "independent", "y": "independent"}}
 },
 {
  "width": 204, "height": 193,
  "title": {"text": "EGB minus FSD", "dx": -16, "offset": 4.5},
  "data": {"name": "grad"},
  "transform": [{"filter": "datum.p == 'EGB'"}],
  "layer": [
   {"transform": [{"filter": "datum.s == 'obs'"}], "mark": {"type": "area", "color": "#d9d9d9", "opacity": 1},
    "encoding": {
     "x": {"field": "m", "type": "quantitative", "scale": {"domain": [0.5, 12.5], "nice": false}, "axis": {"orient": "bottom", "title": null, "values": [1,2,3,4,5,6,7,8,9,10,11,12], "tickSize": -6, "labelPadding": 11}},
     "y": {"field": "lo", "type": "quantitative", "scale": {"domain": [-50, 44.5], "nice": false}, "axis": {"orient": "left", "title": null, "values": [-50,-40,-30,-20,-10,0,10,20,30,40], "labelExpr": "datum.value % 20 == 0 ? '' + datum.value : ''", "tickSize": -6, "labelPadding": 10}},
     "y2": {"field": "hi"}}},
   {"transform": [{"filter": "datum.s == 'prior'"}], "mark": {"type": "area", "color": "#d4dff8", "opacity": 1},
    "encoding": {"x": {"field": "m", "type": "quantitative", "axis": null}, "y": {"field": "lo", "type": "quantitative", "axis": null}, "y2": {"field": "hi"}}},
   {"transform": [{"filter": "datum.s == 'posterior'"}], "mark": {"type": "area", "color": "#f8c0c0", "opacity": 1},
    "encoding": {"x": {"field": "m", "type": "quantitative", "axis": null}, "y": {"field": "lo", "type": "quantitative", "axis": null}, "y2": {"field": "hi"}}},
   {"data": {"values": [{"z": 0}]}, "mark": {"type": "rule", "color": "black", "strokeWidth": 1},
    "encoding": {"y": {"field": "z", "type": "quantitative", "axis": null}}},
   {"mark": {"type": "line", "point": {"filled": true, "size": 60}},
    "encoding": {"x": {"field": "m", "type": "quantitative", "axis": null}, "y": {"field": "v", "type": "quantitative", "axis": null},
     "color": {"field": "s", "type": "nominal", "scale": {"domain": ["obs", "prior", "posterior"], "range": ["#000000", "#1550ff", "#f01e1e"]},
      "legend": {"orient": "none", "legendX": 16, "legendY": 141, "padding": 0, "rowPadding": -10, "clipHeight": 13, "symbolSize": 169, "labelOffset": 13, "labelFontSize": 16, "title": null, "encode": {"symbols": {"update": {"size": {"value": 169}, "shape": {"signal": "datum.value == 'obs' ? 'M-1,-0.13L0.05,-0.13L0.05,0.13L-1,0.13ZM0.23,0a0.62,0.62 0 1,1 1.24,0a0.62,0.62 0 1,1 -1.24,0ZM1.9,-0.13L3,-0.13L3,0.13L1.9,0.13Z' : datum.value == 'prior' ? 'M-1,-0.2L0.05,-0.2L0.05,0.2L-1,0.2ZM0.23,0a0.62,0.62 0 1,1 1.24,0a0.62,0.62 0 1,1 -1.24,0ZM1.9,-0.2L3,-0.2L3,0.2L1.9,0.2Z' : 'M-1,-0.2L3.2,-0.2L3.2,0.2L-1,0.2ZM0.23,0a0.62,0.62 0 1,1 1.24,0a0.62,0.62 0 1,1 -1.24,0Z'"}, "fill": {"signal": "datum.value == 'obs' ? '#000000' : datum.value == 'prior' ? '#1550ff' : '#f01e1e'"}, "stroke": {"value": "transparent"}}}}}},
     "strokeDash": {"field": "s", "type": "nominal", "scale": {"domain": ["obs", "prior", "posterior"], "range": [[5, 3], [8, 5], [1, 0]]}, "legend": null},
     "strokeWidth": {"field": "s", "type": "nominal", "scale": {"domain": ["obs", "prior", "posterior"], "range": [1.4, 2.6, 2.6]}, "legend": null}}},
   {"mark": {"type": "point", "opacity": 0},
    "encoding": {"x": {"field": "m", "type": "quantitative", "axis": {"orient": "top", "title": null, "labels": false, "values": [1,2,3,4,5,6,7,8,9,10,11,12], "tickSize": -6}},
     "y": {"field": "v", "type": "quantitative", "axis": {"orient": "right", "title": null, "labels": false, "values": [-50,-40,-30,-20,-10,0,10,20,30,40], "tickSize": -6}}}}
  ],
  "resolve": {"axis": {"x": "independent", "y": "independent"}}
 },
 {
  "width": 204, "height": 205,
  "data": {"name": "corr"},
  "transform": [{"filter": "datum.p == 'ETL'"}],
  "layer": [
   {"transform": [{"filter": "datum.s == 'prior'"}], "mark": {"type": "area", "color": "#d4dff8", "opacity": 1},
    "encoding": {
     "x": {"field": "m", "type": "quantitative", "scale": {"domain": [0.5, 12.5], "nice": false}, "axis": {"orient": "bottom", "title": "Month", "titleFontSize": 19, "titlePadding": 12, "values": [1,2,3,4,5,6,7,8,9,10,11,12], "tickSize": -6, "labelPadding": 11}},
     "y": {"field": "lo", "type": "quantitative", "scale": {"domain": [0, 1], "nice": false}, "axis": {"orient": "left", "title": "correlation model–obs", "titlePadding": 13, "values": [0, 0.2, 0.4, 0.6, 0.8, 1], "format": ".1f", "tickSize": -6, "labelPadding": 10}},
     "y2": {"field": "hi"}}},
   {"transform": [{"filter": "datum.s == 'posterior'"}], "mark": {"type": "area", "color": "#f8c0c0", "opacity": 1},
    "encoding": {"x": {"field": "m", "type": "quantitative", "axis": null}, "y": {"field": "lo", "type": "quantitative", "axis": null}, "y2": {"field": "hi"}}},
   {"mark": {"type": "line", "point": {"filled": true, "size": 60}},
    "encoding": {"x": {"field": "m", "type": "quantitative", "axis": null}, "y": {"field": "v", "type": "quantitative", "axis": null},
     "color": {"field": "s", "type": "nominal", "scale": {"domain": ["prior", "posterior"], "range": ["#1550ff", "#f01e1e"]},
      "legend": {"orient": "none", "legendX": 21, "legendY": 166, "padding": 0, "rowPadding": -8, "clipHeight": 12, "symbolSize": 169, "labelOffset": 13, "labelFontSize": 16, "title": null, "encode": {"symbols": {"update": {"size": {"value": 169}, "shape": {"signal": "datum.value == 'prior' ? 'M-1,-0.2L0.05,-0.2L0.05,0.2L-1,0.2ZM0.23,0a0.62,0.62 0 1,1 1.24,0a0.62,0.62 0 1,1 -1.24,0ZM1.9,-0.2L3,-0.2L3,0.2L1.9,0.2Z' : 'M-1,-0.2L3.2,-0.2L3.2,0.2L-1,0.2ZM0.23,0a0.62,0.62 0 1,1 1.24,0a0.62,0.62 0 1,1 -1.24,0Z'"}, "fill": {"signal": "datum.value == 'prior' ? '#1550ff' : '#f01e1e'"}, "stroke": {"value": "transparent"}}}}}},
     "strokeDash": {"field": "s", "type": "nominal", "scale": {"domain": ["prior", "posterior"], "range": [[8, 5], [1, 0]]}, "legend": null},
     "strokeWidth": {"field": "s", "type": "nominal", "scale": {"domain": ["prior", "posterior"], "range": [2.6, 2.6]}, "legend": null}}},
   {"mark": {"type": "point", "opacity": 0},
    "encoding": {"x": {"field": "m", "type": "quantitative", "axis": {"orient": "top", "title": null, "labels": false, "values": [1,2,3,4,5,6,7,8,9,10,11,12], "tickSize": -6}},
     "y": {"field": "v", "type": "quantitative", "axis": {"orient": "right", "title": null, "labels": false, "values": [0, 0.2, 0.4, 0.6, 0.8, 1], "tickSize": -6}}}}
  ],
  "resolve": {"axis": {"x": "independent", "y": "independent"}}
 },
 {
  "width": 204, "height": 205,
  "data": {"name": "corr"},
  "transform": [{"filter": "datum.p == 'EGB'"}],
  "layer": [
   {"transform": [{"filter": "datum.s == 'prior'"}], "mark": {"type": "area", "color": "#d4dff8", "opacity": 1},
    "encoding": {
     "x": {"field": "m", "type": "quantitative", "scale": {"domain": [0.5, 12.5], "nice": false}, "axis": {"orient": "bottom", "title": "Month", "titleFontSize": 19, "titlePadding": 12, "values": [1,2,3,4,5,6,7,8,9,10,11,12], "tickSize": -6, "labelPadding": 11}},
     "y": {"field": "lo", "type": "quantitative", "scale": {"domain": [0, 1], "nice": false}, "axis": {"orient": "left", "title": null, "values": [0, 0.2, 0.4, 0.6, 0.8, 1], "format": ".1f", "tickSize": -6, "labelPadding": 10}},
     "y2": {"field": "hi"}}},
   {"transform": [{"filter": "datum.s == 'posterior'"}], "mark": {"type": "area", "color": "#f8c0c0", "opacity": 1},
    "encoding": {"x": {"field": "m", "type": "quantitative", "axis": null}, "y": {"field": "lo", "type": "quantitative", "axis": null}, "y2": {"field": "hi"}}},
   {"mark": {"type": "line", "point": {"filled": true, "size": 60}},
    "encoding": {"x": {"field": "m", "type": "quantitative", "axis": null}, "y": {"field": "v", "type": "quantitative", "axis": null},
     "color": {"field": "s", "type": "nominal", "scale": {"domain": ["prior", "posterior"], "range": ["#1550ff", "#f01e1e"]},
      "legend": {"orient": "none", "legendX": 28, "legendY": 167, "padding": 0, "rowPadding": -8, "clipHeight": 12, "symbolSize": 169, "labelOffset": 13, "labelFontSize": 16, "title": null, "encode": {"symbols": {"update": {"size": {"value": 169}, "shape": {"signal": "datum.value == 'prior' ? 'M-1,-0.2L0.05,-0.2L0.05,0.2L-1,0.2ZM0.23,0a0.62,0.62 0 1,1 1.24,0a0.62,0.62 0 1,1 -1.24,0ZM1.9,-0.2L3,-0.2L3,0.2L1.9,0.2Z' : 'M-1,-0.2L3.2,-0.2L3.2,0.2L-1,0.2ZM0.23,0a0.62,0.62 0 1,1 1.24,0a0.62,0.62 0 1,1 -1.24,0Z'"}, "fill": {"signal": "datum.value == 'prior' ? '#1550ff' : '#f01e1e'"}, "stroke": {"value": "transparent"}}}}}},
     "strokeDash": {"field": "s", "type": "nominal", "scale": {"domain": ["prior", "posterior"], "range": [[8, 5], [1, 0]]}, "legend": null},
     "strokeWidth": {"field": "s", "type": "nominal", "scale": {"domain": ["prior", "posterior"], "range": [2.6, 2.6]}, "legend": null}}},
   {"mark": {"type": "point", "opacity": 0},
    "encoding": {"x": {"field": "m", "type": "quantitative", "axis": {"orient": "top", "title": null, "labels": false, "values": [1,2,3,4,5,6,7,8,9,10,11,12], "tickSize": -6}},
     "y": {"field": "v", "type": "quantitative", "axis": {"orient": "right", "title": null, "labels": false, "values": [0, 0.2, 0.4, 0.6, 0.8, 1], "tickSize": -6}}}}
  ],
  "resolve": {"axis": {"x": "independent", "y": "independent"}}
 }
 ]
}
]
}
